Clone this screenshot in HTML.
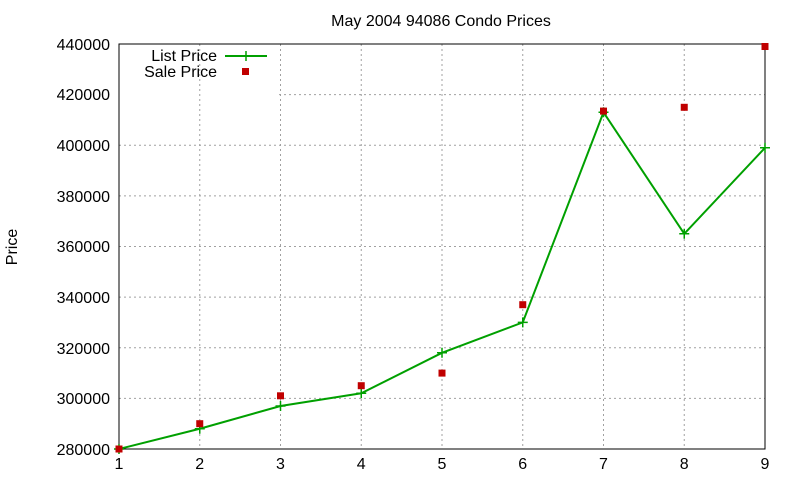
<!DOCTYPE html>
<html><head><meta charset="utf-8"><style>body{margin:0;background:#fff}svg{display:block;font-family:"Liberation Sans",sans-serif}</style></head><body>
<svg width="800" height="480" xmlns="http://www.w3.org/2000/svg">
<rect width="800" height="480" fill="#fff"/>
<g stroke="#a0a0a0" stroke-dasharray="2,3" stroke-width="1">
<line x1="199.75" y1="44" x2="199.75" y2="449"/><line x1="280.5" y1="44" x2="280.5" y2="449"/><line x1="361.25" y1="44" x2="361.25" y2="449"/><line x1="442" y1="44" x2="442" y2="449"/><line x1="522.75" y1="44" x2="522.75" y2="449"/><line x1="603.5" y1="44" x2="603.5" y2="449"/><line x1="684.25" y1="44" x2="684.25" y2="449"/>
<line x1="119" y1="398.4" x2="765" y2="398.4"/><line x1="119" y1="347.8" x2="765" y2="347.8"/><line x1="119" y1="297.1" x2="765" y2="297.1"/><line x1="119" y1="246.5" x2="765" y2="246.5"/><line x1="119" y1="195.9" x2="765" y2="195.9"/><line x1="119" y1="145.3" x2="765" y2="145.3"/><line x1="279" y1="94.6" x2="765" y2="94.6"/>
</g>
<rect x="119" y="44" width="646" height="405" fill="none" stroke="#000" stroke-width="1"/>
<g font-size="16" fill="#000" text-anchor="end">
<text x="110" y="455">280000</text><text x="110" y="404">300000</text><text x="110" y="354">320000</text><text x="110" y="303">340000</text><text x="110" y="252">360000</text><text x="110" y="202">380000</text><text x="110" y="151">400000</text><text x="110" y="100">420000</text><text x="110" y="50">440000</text>
</g>
<g font-size="16" fill="#000" text-anchor="middle">
<text x="119" y="469">1</text><text x="199.75" y="469">2</text><text x="280.5" y="469">3</text><text x="361.25" y="469">4</text><text x="442" y="469">5</text><text x="522.75" y="469">6</text><text x="603.5" y="469">7</text><text x="684.25" y="469">8</text><text x="765" y="469">9</text>
<text x="441" y="26">May 2004 94086 Condo Prices</text>
<text transform="translate(17,247) rotate(-90)">Price</text>
</g>
<text x="217" y="61" font-size="16" text-anchor="end">List Price</text>
<text x="217" y="77" font-size="16" text-anchor="end">Sale Price</text>
<line x1="225" y1="56" x2="267" y2="56" stroke="#00a000" stroke-width="2"/>
<path d="M246 51v10M241 56h10" stroke="#00a000" stroke-width="1.5"/>
<rect x="242" y="68" width="7" height="7" fill="#c00000"/>
<polyline fill="none" stroke="#00a000" stroke-width="2" points="119,449 199.75,428.75 280.5,406 361.25,393.3 442,352.8 522.75,322.4 603.5,112.3 684.25,233.8 765,147.8"/>
<g stroke="#00a000" stroke-width="1.5">
<path d="M119 444v10M114 449h10M199.75 423.75v10M194.75 428.75h10M280.5 401v10M275.5 406h10M361.25 388.3v10M356.25 393.3h10M442 347.8v10M437 352.8h10M522.75 317.4v10M517.75 322.4h10M603.5 107.3v10M598.5 112.3h10M684.25 228.8v10M679.25 233.8h10M765 142.8v10M760 147.8h10"/>
</g>
<g fill="#c00000">
<rect x="115.5" y="445.5" width="7" height="7"/><rect x="196.25" y="420.2" width="7" height="7"/><rect x="277" y="392.3" width="7" height="7"/><rect x="357.75" y="382.2" width="7" height="7"/><rect x="438.5" y="369.6" width="7" height="7"/><rect x="519.25" y="301.2" width="7" height="7"/><rect x="600" y="107.6" width="7" height="7"/><rect x="680.75" y="103.8" width="7" height="7"/><rect x="761.5" y="43" width="7" height="7"/>
</g>
</svg>
</body></html>
